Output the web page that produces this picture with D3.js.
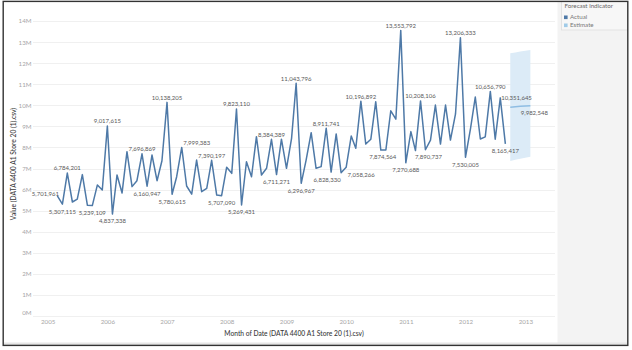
<!DOCTYPE html>
<html><head><meta charset="utf-8">
<script src="https://cdn.jsdelivr.net/npm/d3@7"></script>
<style>
body{margin:0;background:#fff}
svg{display:block}
text{font-family:Lato,"Open Sans",sans-serif}
</style>
</head><body>
<svg id="c" width="632" height="350"></svg>
<script>
// ---- data ----
const months = [
  "2005-03","2005-04","2005-05","2005-06","2005-07","2005-08","2005-09","2005-10","2005-11","2005-12",
  "2006-01","2006-02","2006-03","2006-04","2006-05","2006-06","2006-07","2006-08","2006-09","2006-10","2006-11","2006-12",
  "2007-01","2007-02","2007-03","2007-04","2007-05","2007-06","2007-07","2007-08","2007-09","2007-10","2007-11","2007-12",
  "2008-01","2008-02","2008-03","2008-04","2008-05","2008-06","2008-07","2008-08","2008-09","2008-10","2008-11","2008-12",
  "2009-01","2009-02","2009-03","2009-04","2009-05","2009-06","2009-07","2009-08","2009-09","2009-10","2009-11","2009-12",
  "2010-01","2010-02","2010-03","2010-04","2010-05","2010-06","2010-07","2010-08","2010-09","2010-10","2010-11","2010-12",
  "2011-01","2011-02","2011-03","2011-04","2011-05","2011-06","2011-07","2011-08","2011-09","2011-10","2011-11","2011-12",
  "2012-01","2012-02","2012-03","2012-04","2012-05","2012-06","2012-07","2012-08","2012-09"
];
const actualValues = [
  5701961,5307115,6784201,5410000,5550000,6710000,5250000,5239109,6220000,5980000,
  9017615,4837338,6690000,5840000,7800000,6140000,6420000,7696869,6160947,7640000,6420000,7370000,
  10138205,5780615,6610000,7999383,6170000,5780000,7400000,5900000,6060000,7390197,5740000,5707090,
  7060000,6770000,9823110,5269431,7320000,6610000,8510000,6690000,7010000,8384389,6711271,8390000,
  7010000,8430000,11043796,6296967,7400000,8700000,7010000,7090000,8911741,6828330,8640000,6800000,
  7058266,8540000,7960000,10196892,8160000,8390000,10170000,7874564,7880000,9740000,9340000,13553792,
  7270688,8750000,7850000,10208106,7890737,8350000,10010000,8160000,10010000,8350000,9590000,13206333,
  7530005,8910000,10390000,8400000,8500000,10656790,8390000,10351645,8165417
];
const forecastMonths = ["2012-10","2012-11","2012-12","2013-01","2013-02"];
const forecastValues = [9910000,9930000,9950000,9965000,9982548];
const forecastLower  = [7360000,7410000,7460000,7510000,7560000];
const forecastUpper  = [12470000,12510000,12550000,12590000,12620000];
const yearTicks = ["2005","2006","2007","2008","2009","2010","2011","2012","2013"];
const yTicks = [0,1e6,2e6,3e6,4e6,5e6,6e6,7e6,8e6,9e6,10e6,11e6,12e6,13e6,14e6];
const legendItems = ["Actual","Estimate"];
const labelledActual = ["2005-03","2005-04","2005-05","2005-10","2006-01","2006-02","2006-08","2006-09",
  "2007-01","2007-02","2007-04","2007-10","2007-12","2008-03","2008-04","2008-10","2008-11",
  "2009-03","2009-04","2009-09","2009-10","2010-01","2010-04","2010-08","2010-12","2011-01",
  "2011-04","2011-05","2011-12","2012-01","2012-06","2012-08","2012-09"];
const labelledForecast = ["2013-02"];

// ---- layout (label placement: side, horizontal nudge) ----
const placement = {
  "2005-03":["left",0],"2007-04":["above",15],"2010-01":["below",15],"2009-10":["below",-4],
  "2011-05":["below",3],"2010-08":["below",2],"2012-08":["right",0],"2013-02":["below",4]
};

const W=632,H=350;
const svg=d3.select("#c");
const parse=d3.timeParse("%Y-%m");
const x=d3.scaleTime().domain([new Date(2005,0,1),new Date(2013,0,1)]).range([47.7,525.3]);
const y=d3.scaleLinear().domain([0,14e6]).range([316,21]);
const fmt=d3.format(",");

// background panels
svg.append("rect").attr("x",0).attr("y",0).attr("width",W).attr("height",H).attr("fill","#fff");
svg.append("rect").attr("x",557.5).attr("y",2).attr("width",70).attr("height",343).attr("fill","#f3f3f3");
svg.append("rect").attr("x",3).attr("y",342.5).attr("width",624).attr("height",3).attr("fill","#e6e6e6");

// gridlines
svg.append("g").selectAll("line").data(yTicks).join("line")
  .attr("x1",33).attr("x2",555).attr("y1",d=>Math.round(y(d))+0.5).attr("y2",d=>Math.round(y(d))+0.5)
  .attr("stroke","#f0f0f0").attr("stroke-width",1);

// y axis
const ya=svg.append("g").attr("transform","translate(31.5,0)")
  .call(d3.axisLeft(y).tickValues(yTicks).tickSize(0).tickPadding(0).tickFormat(d=>(d/1e6)+"M"));
ya.select(".domain").remove();
ya.selectAll("text").attr("fill","#a6a6a6").attr("font-size",6.2).attr("font-family","Lato")
  .attr("dy",d=>d===0?"-0.3em":"0.32em");

// x axis
const xa=svg.append("g").attr("transform","translate(0,318)")
  .call(d3.axisBottom(x).tickValues(yearTicks.map(s=>new Date(+s,0,1))).tickSize(0).tickPadding(2).tickFormat(d3.timeFormat("%Y")));
xa.select(".domain").remove();
xa.selectAll("text").attr("fill","#a6a6a6").attr("font-size",6.2).attr("font-family","Lato");

// axis titles
svg.append("text").attr("x",294).attr("y",335.5).attr("text-anchor","middle")
  .attr("font-size",6.7).attr("fill","#3a3a3a").attr("font-weight",500)
  .text("Month of Date (DATA 4400 A1 Store 20 (1).csv)");
svg.append("text").attr("transform","translate(16,164) rotate(-90)").attr("text-anchor","middle")
  .attr("font-size",6.7).attr("fill","#3a3a3a").attr("font-weight",500)
  .text("Value (DATA 4400 A1 Store 20 (1).csv)");

// forecast band
const fc=forecastMonths.map((m,i)=>({d:parse(m),k:m,v:forecastValues[i],lo:forecastLower[i],hi:forecastUpper[i]}));
svg.append("path").datum(fc)
  .attr("d",d3.area().x(d=>x(d.d)).y0(d=>y(d.lo)).y1(d=>y(d.hi)))
  .attr("fill","#dcebf7");
svg.append("path").datum(fc)
  .attr("d",d3.line().x(d=>x(d.d)).y(d=>y(d.v)))
  .attr("fill","none").attr("stroke","#8fbde3").attr("stroke-width",1.5);

// actual line
const act=months.map((m,i)=>({d:parse(m),k:m,v:actualValues[i]}));
svg.append("path").datum(act)
  .attr("d",d3.line().x(d=>x(d.d)).y(d=>y(d.v)))
  .attr("fill","none").attr("stroke","#4e79a7").attr("stroke-width",1.5).attr("stroke-linejoin","round");

// labels
function drawLabel(p, side, dx){
  const px=x(p.d)+dx, py=y(p.v);
  const t=svg.append("text").attr("font-size",6).attr("fill","#595959").text(fmt(p.v));
  if(side==="above"){t.attr("x",px).attr("y",py-2.6).attr("text-anchor","middle");}
  else if(side==="below"){t.attr("x",px).attr("y",py+9.4).attr("text-anchor","middle");}
  else if(side==="left"){t.attr("x",px+1.6).attr("y",py+0.6).attr("text-anchor","end");}
  else {t.attr("x",px+1).attr("y",py+2).attr("text-anchor","start");}
}
act.forEach((p,i)=>{
  if(!labelledActual.includes(p.k)) return;
  const prev=i>0?act[i-1].v:p.v;
  const side=placement[p.k]?placement[p.k][0]:(p.v>prev?"above":"below");
  drawLabel(p,side,placement[p.k]?placement[p.k][1]:0);
});
fc.forEach(p=>{
  if(!labelledForecast.includes(p.k)) return;
  drawLabel(p,placement[p.k][0],placement[p.k][1]);
});

// legend
const lg=svg.append("g");
lg.append("rect").attr("x",561.5).attr("y",1.5).attr("width",66).attr("height",28.5).attr("fill","#f7f7f7").attr("stroke","#dedede").attr("stroke-width",0.8);
lg.append("text").attr("x",564.5).attr("y",8.3).attr("font-size",6.2).attr("fill","#666").text("Forecast indicator");
const lcol=d3.scaleOrdinal().domain(legendItems).range(["#4e79a7","#a0cbe8"]);
legendItems.forEach((s,i)=>{
  lg.append("rect").attr("x",564).attr("y",15.5+i*8).attr("width",3.6).attr("height",3.6).attr("fill",lcol(s));
  lg.append("text").attr("x",570).attr("y",19.4+i*8).attr("font-size",6.2).attr("fill","#777").text(s);
});

// outer frame
svg.append("rect").attr("x",3.2).attr("y",1.4).attr("width",624.6).attr("height",344).attr("fill","none").attr("stroke","#333").attr("stroke-width",1.4);
</script>
</body></html>
